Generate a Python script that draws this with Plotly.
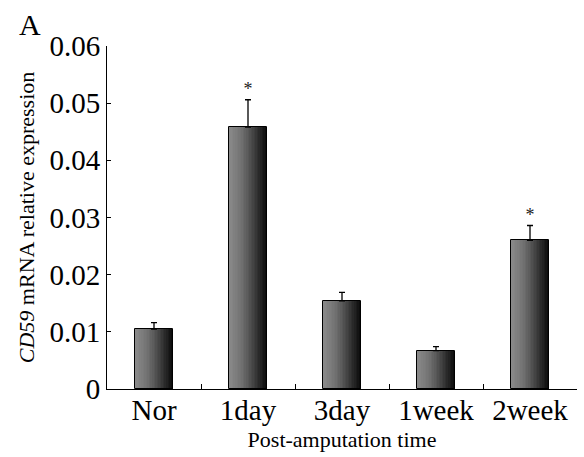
import plotly.graph_objects as go

categories = ["Nor", "1day", "3day", "1week", "2week"]
values = [0.0105, 0.0458, 0.0154, 0.0067, 0.0260]
errors_plus = [0.0011, 0.0048, 0.0015, 0.0007, 0.0026]
significant = ["", "*", "", "", "*"]

FONT = "Liberation Serif"
BAR_W = 0.4
N_SLICES = 24
stops = [(0.0, 140), (0.35, 112), (0.7, 60), (1.0, 10)]

def shade(t):
    for (t0, c0), (t1, c1) in zip(stops[:-1], stops[1:]):
        if t <= t1:
            f = (t - t0) / (t1 - t0)
            c = int(round(c0 + f * (c1 - c0)))
            return f"rgb({c},{c},{c})"
    return f"rgb({stops[-1][1]},{stops[-1][1]},{stops[-1][1]})"

fig = go.Figure()
sw = BAR_W / N_SLICES
for i in range(N_SLICES):
    fig.add_trace(go.Bar(
        x=categories, y=values, width=sw * 1.15, offset=-BAR_W / 2 + i * sw,
        marker=dict(color=shade((i + 0.5) / N_SLICES), line=dict(width=0)),
        showlegend=False, hoverinfo="skip"))

fig.add_trace(go.Bar(
    x=categories, y=values, width=BAR_W, offset=-BAR_W / 2,
    marker=dict(color="rgba(0,0,0,0)", line=dict(color="black", width=1)),
    error_y=dict(type="data", symmetric=False, array=errors_plus,
                 arrayminus=[0] * len(values), color="black", thickness=1.3, width=3),
    showlegend=False))

fig.add_trace(go.Scatter(
    x=categories, y=[v + e for v, e in zip(values, errors_plus)],
    mode="text", text=significant, textposition="top center",
    textfont=dict(family=FONT, size=18, color="#222222"), showlegend=False))

PLOT_W = 584 - 107 - 7
PLOT_H = 457 - 46 - 68

fig.update_layout(
    width=584, height=457,
    margin=dict(l=107, r=7, t=46, b=68),
    plot_bgcolor="white", paper_bgcolor="white",
    barmode="overlay", bargap=0,
    font=dict(family=FONT, color="black"),
    xaxis=dict(type="category", tickson="boundaries", ticks="inside", ticklen=5,
               tickcolor="black", showline=True, linecolor="black", linewidth=1,
               tickfont=dict(size=29, family=FONT), automargin=False, ticklabelstandoff=-5,
               title=dict(text="Post-amputation time", font=dict(size=22, family=FONT), standoff=6),
               range=[-0.5, 4.5], showgrid=False),
    yaxis=dict(range=[0, 0.06], tickvals=[0, 0.01, 0.02, 0.03, 0.04, 0.05, 0.06],
               ticktext=["0", "0.01", "0.02", "0.03", "0.04", "0.05", "0.06"],
               ticks="inside", ticklen=4, tickcolor="black", automargin=False,
               showline=True, linecolor="black", linewidth=1, showgrid=False, zeroline=False,
               tickfont=dict(size=29, family=FONT),
               title=dict(text="<i>CD59</i> mRNA relative expression",
                          font=dict(size=22, family=FONT), standoff=8)),
    annotations=[dict(text="A", x=(17 - 107) / PLOT_W, y=1 + (46 - 24) / PLOT_H,
                      xref="paper", yref="paper", xanchor="left", yanchor="middle",
                      showarrow=False, font=dict(size=30, family=FONT))],
)

fig.write_html("out.html", post_script="document.body.style.margin='0';",
               config={"displayModeBar": False})
